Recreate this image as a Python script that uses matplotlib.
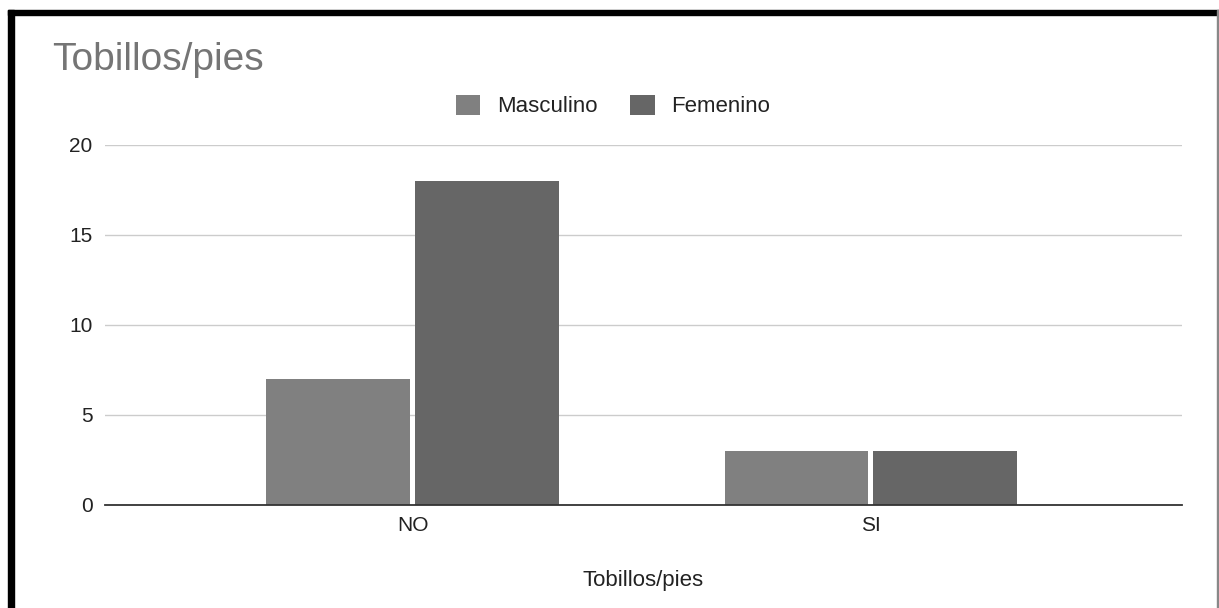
import matplotlib.pyplot as plt
import numpy as np
from matplotlib.patches import Rectangle

categories = ["NO", "SI"]
masculino = [7, 3]
femenino = [18, 3]
yticks = [0, 5, 10, 15, 20]

plt.rcParams['font.family'] = ['Liberation Sans', 'DejaVu Sans']

W, H = 1219, 608
fig = plt.figure(figsize=(W / 100, H / 100), dpi=100)
fig.patch.set_facecolor('white')

# axes area in pixels: x 105..1182, y 145..505
ax = fig.add_axes([105 / W, 1 - 505 / H, (1182 - 105) / W, (505 - 145) / H])

x = np.arange(len(categories))
bw = 0.314
gap = 0.011
ax.bar(x - bw / 2 - gap / 2, masculino, bw, color='#808080', label='Masculino', zorder=3)
ax.bar(x + bw / 2 + gap / 2, femenino, bw, color='#666666', label='Femenino', zorder=3)

ax.set_xlim(-0.672, 1.679)
ax.set_ylim(0, 20)
ax.set_yticks(yticks)
ax.set_xticks(x)
ax.set_xticklabels(categories)
ax.tick_params(axis='both', length=0, labelsize=15, colors='#222222')
ax.tick_params(axis='y', pad=9)
ax.tick_params(axis='x', pad=8)
ax.grid(axis='y', color='#cccccc', linewidth=1, zorder=0)
for s in ['top', 'right', 'left']:
    ax.spines[s].set_visible(False)
ax.spines['bottom'].set_color('#333333')
ax.spines['bottom'].set_linewidth(1.3)
ax.spines['bottom'].set_zorder(4)

ax.set_xlabel('Tobillos/pies', fontsize=16, color='#222222', labelpad=25)

fig.text(52 / W, 1 - 60 / H, 'Tobillos/pies', fontsize=28, color='#757575', va='center', ha='left')

fig.legend(loc='center', bbox_to_anchor=(613 / W, 1 - 106 / H), ncol=2, frameon=False,
           fontsize=16, handlelength=1.1, handleheight=1.0, columnspacing=1.5,
           handletextpad=0.75, labelcolor='#222222')

# black frame around the chart
fig.patches.append(Rectangle((8 / W, 1 - 15 / H), (1219 - 8) / W, 5 / H,
                             transform=fig.transFigure, color='black', zorder=10))
fig.patches.append(Rectangle((8 / W, 0), 6 / W, 1 - 10 / H,
                             transform=fig.transFigure, color='black', zorder=10))
fig.patches.append(Rectangle((1217 / W, 0), 2 / W, 1 - 10 / H,
                             transform=fig.transFigure, color='#888888', zorder=10))

fig.savefig('out.png', dpi=100)
